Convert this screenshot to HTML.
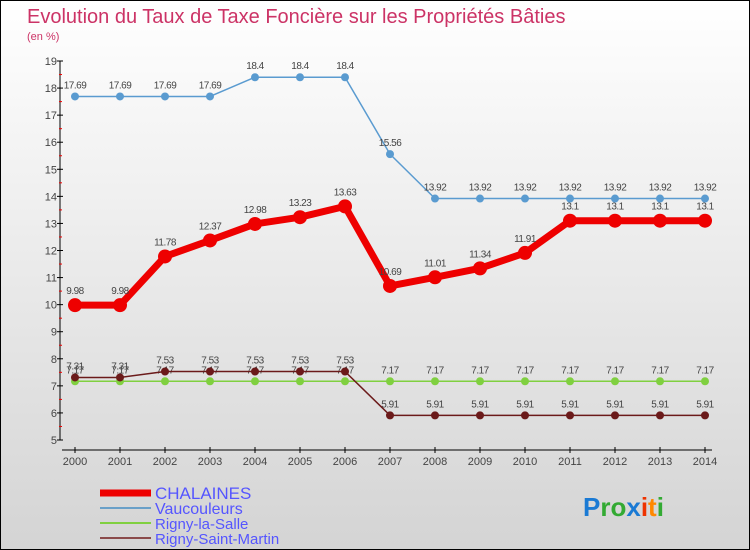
<!DOCTYPE html>
<html><head><meta charset="utf-8"><style>
body{margin:0;}
#c{width:750px;height:550px;position:relative;}
svg{display:block;font-family:"Liberation Sans",sans-serif;}
</style></head><body>
<div id="c">
<svg id="s" width="750" height="550" xmlns="http://www.w3.org/2000/svg">
<defs><linearGradient id="bg" x1="0" y1="0" x2="0" y2="1"><stop offset="0" stop-color="#ffffff"/><stop offset="1" stop-color="#d4d4d4"/></linearGradient></defs>
<rect x="0.5" y="0.5" width="749" height="549" fill="url(#bg)" stroke="#000"/>
<text x="27" y="23" font-size="20" fill="#cc3366">Evolution du Taux de Taxe Foncière sur les Propriétés Bâties</text>
<text x="27" y="40" font-size="11" fill="#cc3366">(en %)</text>
<g id="axes"></g>
<g id="series"></g>
<g id="legend"></g>
<text x="583" y="516" font-size="26" font-weight="bold"><tspan fill="#1a7ad4">P</tspan><tspan fill="#33aa33">ro</tspan><tspan fill="#1a7ad4">x</tspan><tspan fill="#ee3300">i</tspan><tspan fill="#ff8800">t</tspan><tspan fill="#33aa33">i</tspan></text>
</svg>
</div>
<script>
const years=[2000,2001,2002,2003,2004,2005,2006,2007,2008,2009,2010,2011,2012,2013,2014];
const chalaines=[9.98,9.98,11.78,12.37,12.98,13.23,13.63,10.69,11.01,11.34,11.91,13.1,13.1,13.1,13.1];
const vaucouleurs=[17.69,17.69,17.69,17.69,18.4,18.4,18.4,15.56,13.92,13.92,13.92,13.92,13.92,13.92,13.92];
const rignySalle=[7.17,7.17,7.17,7.17,7.17,7.17,7.17,7.17,7.17,7.17,7.17,7.17,7.17,7.17,7.17];
const rignySM=[7.31,7.31,7.53,7.53,7.53,7.53,7.53,5.91,5.91,5.91,5.91,5.91,5.91,5.91,5.91];
const yTicks=[5,6,7,8,9,10,11,12,13,14,15,16,17,18,19];
const NS="http://www.w3.org/2000/svg";
const xs=i=>75+i*45;
const ys=v=>440-(v-5)*(379/14);
function mk(tag,attrs,parent,txt){const e=document.createElementNS(NS,tag);for(const k in attrs)e.setAttribute(k,attrs[k]);if(txt!==undefined)e.textContent=txt;parent.appendChild(e);return e;}
const ax=document.getElementById('axes');
let yl=mk('line',{x1:60,y1:61,x2:60,y2:440,stroke:'#000'},ax);


yTicks.forEach(t=>{
 mk('line',{x1:57,x2:63,y1:ys(t),y2:ys(t),stroke:'#000'},ax);
 if(t<19) mk('line',{x1:59,x2:62,y1:ys(t+0.5),y2:ys(t+0.5),stroke:'#e00'},ax);
 let tx=mk('text',{x:57,y:ys(t)+4,'font-size':11,'text-anchor':'end',fill:'#444'},ax,t);
 
 
});
let xl=mk('line',{x1:62,y1:450,x2:712,y2:450,stroke:'#000'},ax);


years.forEach((y,i)=>{
 mk('line',{x1:xs(i),x2:xs(i),y1:447,y2:453,stroke:'#000'},ax);
 let tx=mk('text',{x:xs(i),y:465,'font-size':11,'text-anchor':'middle',fill:'#444'},ax,y);
 
 
});
const sg=document.getElementById('series');
function series(name,data,color,w,r,dy){
 const g=mk('g',{},sg);
 
 
 mk('polyline',{points:data.map((v,i)=>xs(i)+','+ys(v)).join(' '),fill:'none',stroke:color,'stroke-width':w,'stroke-linejoin':'round'},g);
 data.forEach((v,i)=>{
  const p=mk('circle',{cx:xs(i),cy:ys(v),r:r,fill:color},g);
  
  
  const t=mk('text',{x:xs(i),y:ys(v)+dy,'font-size':10,'text-anchor':'middle',fill:'#444','letter-spacing':'-0.5'},g,String(v));
  
  
 });
}
series('vaucouleurs-series',vaucouleurs,'#5a9bd0',1.5,4,-8);
series('rigny-la-salle-series',rignySalle,'#80d040',1.5,4,-8);
series('rigny-saint-martin-series',rignySM,'#6b1a1a',1.5,4,-8);
series('chalaines-series',chalaines,'#ee0000',7,7,-11);
const lg=document.getElementById('legend');
const items=[['CHALAINES','#ee0000',7,17],['Vaucouleurs','#6aa0c8',2,16],['Rigny-la-Salle','#80d040',2,15],['Rigny-Saint-Martin','#8a4a4a',2,15]];
items.forEach((it,i)=>{
 const y=493+i*15;
 const g=mk('g',{},lg);
 
 
 mk('line',{x1:100,x2:151,y1:y,y2:y,stroke:it[1],'stroke-width':it[2]},g);
 mk('text',{x:155,y:y+6,'font-size':it[3],fill:'#5555ff'},g,it[0]);
});
</script>
</body></html>
